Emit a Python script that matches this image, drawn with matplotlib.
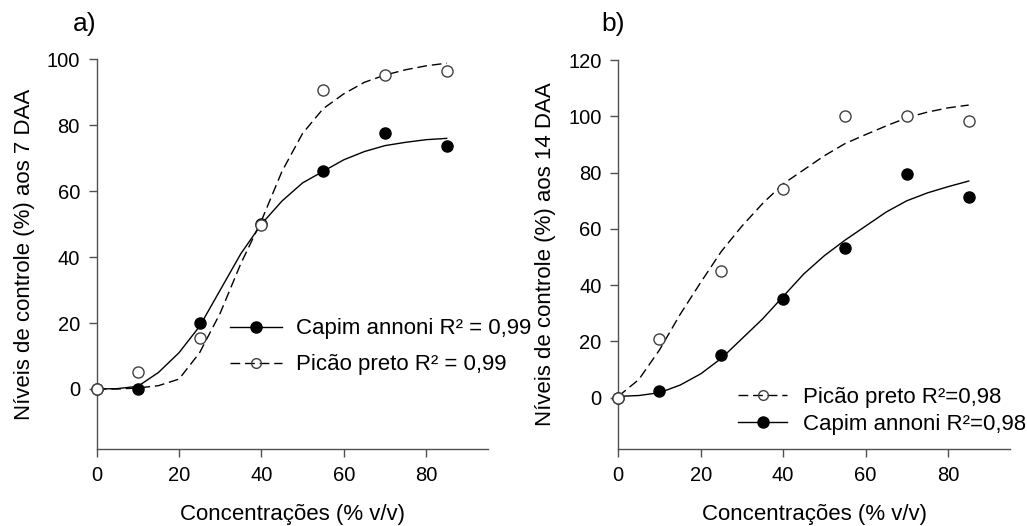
import matplotlib
matplotlib.use('Agg')
import matplotlib.pyplot as plt
from matplotlib.lines import Line2D

plt.rcParams['font.family'] = ['Liberation Sans', 'DejaVu Sans']

# concentrations (% v/v)
conc = [0, 10, 25, 40, 55, 70, 85]

# panel a) control at 7 DAA
capim_7 = [0, 0, 20, 50, 66.2, 77.7, 73.7]
picao_7 = [0, 5.0, 15.4, 49.7, 90.8, 95.2, 96.4]

# panel b) control at 14 DAA
picao_14 = [0, 20.8, 45.1, 74.0, 100, 100, 98.3]
capim_14 = [0, 2.4, 15.2, 35.0, 53.1, 79.4, 71.4]

# fitted curves
curve_x = [0, 5, 10, 15, 20, 25, 30, 35, 40, 45, 50, 55, 60, 65, 70, 75, 80, 85]
capim_7_fit = [0, 0.1, 0.8, 5, 11, 19, 30, 41, 50, 57, 62.5, 66, 69.5, 72, 73.8, 74.8, 75.6, 76]
picao_7_fit = [0, 0, 0.3, 1, 3, 11, 23, 38, 51, 66, 77.5, 85, 89.5, 93, 95.2, 96.8, 98, 98.8]
picao_14_fit = [0.5, 6.5, 17, 29.6, 41, 52, 61, 69, 76, 81, 86, 90.3, 93.5, 96.6, 99.5, 101.5, 103, 104]
capim_14_fit = [0.5, 0.8, 1.8, 4.5, 8.5, 14, 21, 28, 36, 44, 50.5, 56, 61, 66, 70, 72.8, 75, 77]

spine_col = '#505050'
dash = (7, 3.5)


def style_axes(ax, ylim, yticks, ylabel):
    ax.set_xlim(0, 95)
    ax.set_ylim(*ylim)
    ax.set_xticks([0, 20, 40, 60, 80])
    ax.set_yticks(yticks)
    for s in ['top', 'right']:
        ax.spines[s].set_visible(False)
    for s in ['left', 'bottom']:
        ax.spines[s].set_color(spine_col)
        ax.spines[s].set_linewidth(1.0)
    ax.tick_params(direction='out', length=6, width=1.0, color=spine_col,
                   labelsize=14.5, pad=6)
    ax.set_xlabel('Concentrações (% v/v)', fontsize=16, labelpad=14)
    ax.set_ylabel(ylabel, fontsize=16, labelpad=8.5)


def draw(ax, capim, picao, capim_fit, picao_fit):
    ax.plot(curve_x, capim_fit, color='k', lw=1.0, zorder=2)
    ax.plot(curve_x, picao_fit, color='k', lw=1.0, dashes=dash, zorder=2)
    ax.plot(conc, capim, 'o', color='k', ms=8, zorder=3, clip_on=False)
    ax.plot(conc, picao, 'o', mfc='white', mec='#404040', mew=1.0, ms=8,
            zorder=4, clip_on=False)


h_capim = Line2D([], [], color='k', lw=1.0, marker='o', ms=8)
h_picao = Line2D([], [], color='k', lw=1.0, dashes=dash, marker='o', ms=7,
                 mfc='none', mec='#404040')

fig = plt.figure(figsize=(10.27, 5.26), dpi=100)
ax1 = fig.add_axes([0.0941, 0.1464, 0.381, 0.741])
ax2 = fig.add_axes([0.602, 0.1464, 0.3814, 0.7395])

draw(ax1, capim_7, picao_7, capim_7_fit, picao_7_fit)
style_axes(ax1, (-18.2, 100), [0, 20, 40, 60, 80, 100],
           'Níveis de controle (%) aos 7 DAA')
ax1.legend([h_capim, h_picao],
           ['Capim annoni R² = 0,99', 'Picão preto R² = 0,99'],
           loc='upper left', bbox_to_anchor=(0.341, 0.335), frameon=False,
           fontsize=16, handlelength=2.35, handletextpad=0.6,
           labelspacing=0.67, borderpad=0, borderaxespad=0)

draw(ax2, capim_14, picao_14, capim_14_fit, picao_14_fit)
style_axes(ax2, (-18.2, 120), [0, 20, 40, 60, 80, 100, 120],
           'Níveis de controle (%) aos 14 DAA')
ax2.legend([h_picao, h_capim],
           ['Picão preto R²=0,98', 'Capim annoni R²=0,98'],
           loc='upper left', bbox_to_anchor=(0.306, 0.159), frameon=False,
           fontsize=16, handlelength=2.2, handletextpad=0.7,
           labelspacing=0.27, borderpad=0, borderaxespad=0)

fig.text(0.071, 0.954, 'a)', fontsize=19, va='center')
fig.text(0.586, 0.954, 'b)', fontsize=19, va='center')

fig.savefig('out.png', dpi=100)
